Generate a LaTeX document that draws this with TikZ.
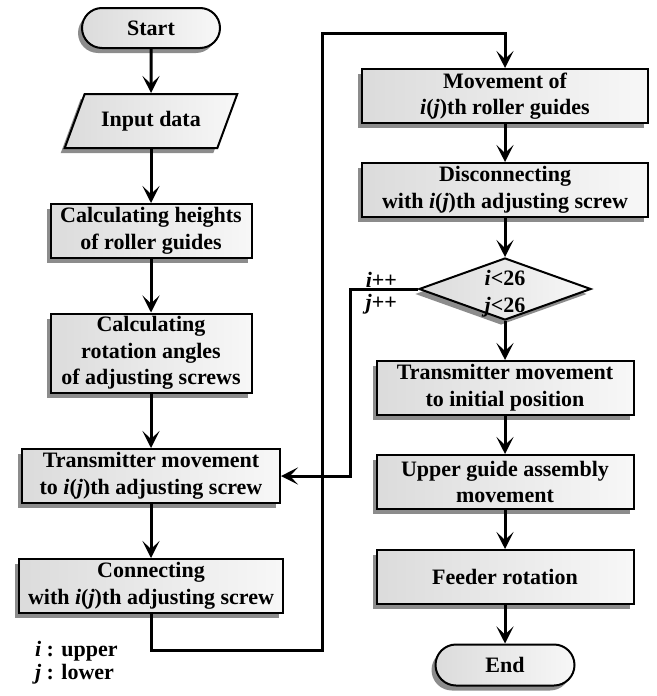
\documentclass[tikz,border=0pt]{standalone}
\usepackage{fontspec}
\setmainfont{Liberation Serif}
\usetikzlibrary{shapes.geometric,shapes.misc,shadows,arrows.meta}

\begin{document}
\begin{tikzpicture}[x=0.5pt,y=-0.5pt,
every node/.style={font=\fontsize{11}{13.3}\selectfont\bfseries},
shd/.style={drop shadow={shadow xshift=-2pt,shadow yshift=-2.5pt,fill=black!60,opacity=.75}},
blk/.style={draw,line width=1pt,left color=black!14,right color=black!3,shd,align=center,inner sep=1pt},
proc/.style={blk,rectangle,minimum height=27pt,minimum width=#1},
term/.style={blk,rounded rectangle,minimum width=71pt,minimum height=20pt},
io/.style={blk,trapezium,trapezium left angle=57,trapezium right angle=123,trapezium stretches=true,minimum width=86.5pt,minimum height=27pt},
test/.style={blk,diamond,minimum width=86pt,minimum height=31pt,inner sep=0pt},
arr/.style={line width=1.5pt,-{Stealth[length=8.5pt,width=8.5pt,inset=4pt]}}]
\useasboundingbox (0,0) rectangle (657,696);
\node[term] (start) at (151,28) {Start};
\node[io] (input) at (151,121) {Input data};
\node[proc=100.5pt] (heights) at (151,231) {Calculating heights\\of roller guides};
\node[proc=100.5pt,minimum height=39.5pt] (angles) at (151,353) {Calculating\\rotation angles\\of adjusting screws};
\node[proc=129pt] (trans) at (151,476) {Transmitter movement\\to \textit{i}(\textit{j})th adjusting screw};
\node[proc=132pt] (conn) at (151,586) {Connecting\\with \textit{i}(\textit{j})th adjusting screw};
\node[proc=143pt] (move) at (505,96) {Movement of\\\textit{i}(\textit{j})th roller guides};
\node[proc=143pt] (disc) at (505,190) {Disconnecting\\with \textit{i}(\textit{j})th adjusting screw};
\node[test] (cond) at (505,289) {};
\node[align=center] (condtxt) at (505,294) {\textit{i}<26\\\textit{j}<26};
\node[proc=128.5pt] (home) at (505,388) {Transmitter movement\\to initial position};
\node[proc=128.5pt] (upper) at (505,482) {Upper guide assembly\\movement};
\node[proc=128.5pt] (feeder) at (505,577) {Feeder rotation};
\node[term,minimum width=71.5pt,minimum height=20.5pt] (end) at (505,665) {End};
\node[anchor=east] (iinc) at (404,280) {\textit{i}++};
\node[anchor=east] (jinc) at (404,304) {\textit{j}++};
\node[align=left,anchor=west,font=\fontsize{11}{11.5}\selectfont\bfseries] (legend) at (28,663) {\textit{i} : upper\\\textit{j} : lower};
\coordinate (lp1) at (322,650);
\coordinate (lp2) at (322,33);
\coordinate (lp3) at (350,289);
\draw[arr] (start) -- (input);
\draw[arr] (input) -- (heights);
\draw[arr] (heights) -- (angles);
\draw[arr] (angles) -- (trans);
\draw[arr] (trans) -- (conn);
\draw[arr] (conn.south) |- (lp1) -- (lp2) -| (move.north);
\draw[arr] (move) -- (disc);
\draw[arr] (disc) -- (cond);
\draw[arr] (cond.west) -- (lp3) |- (trans.east);
\draw[arr] (cond) -- (home);
\draw[arr] (home) -- (upper);
\draw[arr] (upper) -- (feeder);
\draw[arr] (feeder) -- (end);
\end{tikzpicture}
\end{document}
